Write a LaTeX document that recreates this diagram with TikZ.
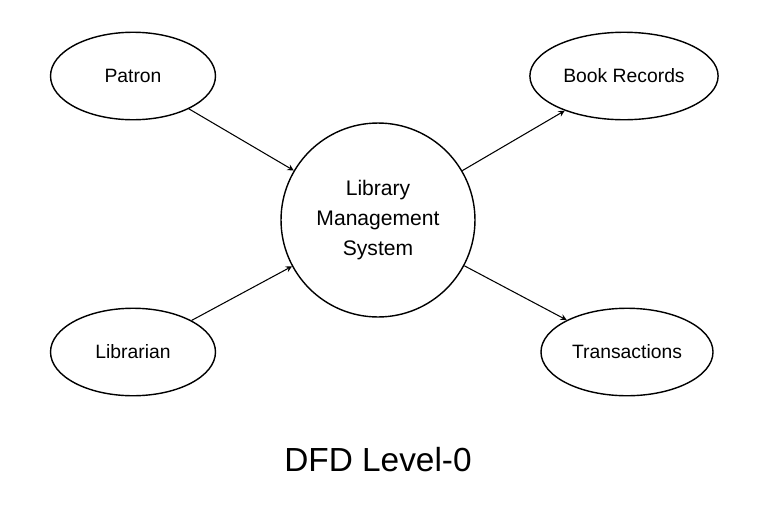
\documentclass[tikz,border=0pt]{standalone}
\usepackage{fontspec}
\setmainfont{Liberation Sans}
\usetikzlibrary{shapes.geometric}
\begin{document}
\begin{tikzpicture}[x=0.02cm,y=-0.02cm,
  every node/.style={font=\fontsize{11}{13}\selectfont},
  entity/.style={ellipse,draw=black,thick,minimum width=3.3cm,minimum height=1.75cm},
  flow/.style={->,>=stealth,semithick}]
\useasboundingbox (0,0) rectangle (768,518);
% External entities
\node(patron)[entity] at (133,76) {Patron};
\node(librarian)[entity] at (133,352) {Librarian};
\node(books)[entity] at (624,76) {Book Records};
\node(trans)[entity] at (627,352) {Transactions};
% Process
\node(sys)[circle,draw=black,thick,minimum size=3.88cm,align=center,font=\fontsize{12}{17}\selectfont] at (378,220) {Library\\Management\\System};
% Flows
\draw[flow] (patron) -- (sys);
\draw[flow] (librarian) -- (sys);
\draw[flow] (sys) -- (books);
\draw[flow] (sys) -- (trans);
% Title
\node(title) at (378,460) {\fontsize{19}{22}\selectfont DFD Level-0};
\end{tikzpicture}
\end{document}
